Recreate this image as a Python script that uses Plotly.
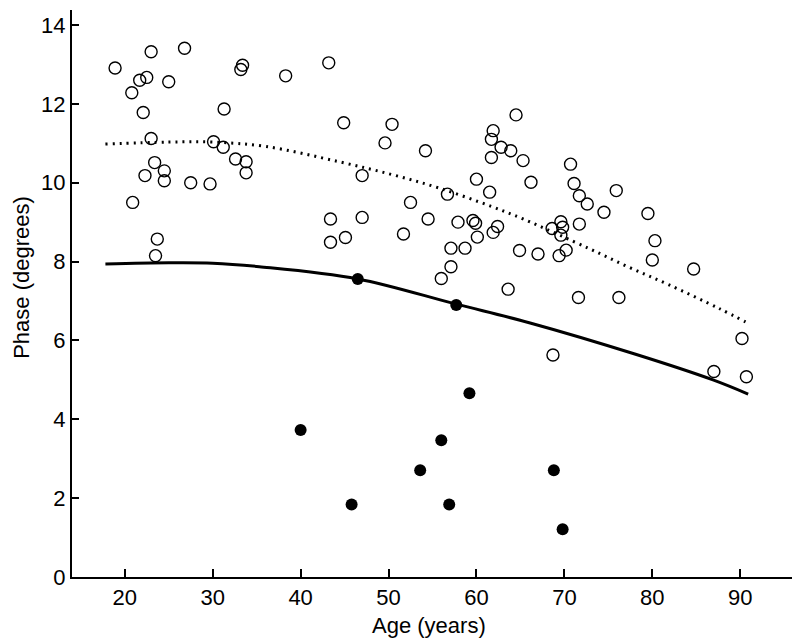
import plotly.graph_objects as go

# open circles (phase by age)
open_age = [18.9, 20.8, 21.7, 22.5, 23.0, 22.1, 23.0, 23.4, 22.3, 24.5, 24.5, 25.0,
            26.8, 27.5, 29.7, 30.1, 31.2, 31.3, 32.6, 33.8, 33.8, 33.4, 33.2, 20.9,
            23.7, 23.5, 38.3, 43.2, 44.9, 50.4, 49.6, 54.2, 47.0, 56.7, 60.0, 61.5,
            52.5, 64.5, 61.9, 61.7, 62.8, 63.9, 61.7, 65.3, 66.2, 70.7, 71.1, 71.7,
            72.6, 74.5, 75.9, 79.5, 43.4, 47.0, 43.4, 45.1, 51.7, 54.5, 57.9, 59.6,
            59.9, 60.1, 61.9, 62.4, 57.1, 58.7, 57.1, 56.0, 64.9, 63.6, 80.3, 80.0,
            84.7, 69.6, 68.6, 69.8, 69.6, 71.7, 67.0, 69.4, 70.2, 71.6, 76.2, 68.7,
            90.2, 87.0, 90.7]
open_phase = [12.91, 12.28, 12.60, 12.67, 13.32, 11.78, 11.12, 10.51, 10.18, 10.30, 10.05, 12.56,
              13.41, 10.00, 9.97, 11.04, 10.90, 11.87, 10.60, 10.53, 10.25, 12.98, 12.87, 9.50,
              8.57, 8.15, 12.71, 13.04, 11.52, 11.48, 11.01, 10.81, 10.18, 9.71, 10.09, 9.76,
              9.50, 11.72, 11.32, 11.10, 10.90, 10.81, 10.64, 10.56, 10.01, 10.47, 9.98, 9.67,
              9.46, 9.25, 9.80, 9.22, 9.08, 9.12, 8.49, 8.61, 8.70, 9.08, 9.00, 9.04,
              8.97, 8.62, 8.74, 8.89, 8.34, 8.34, 7.87, 7.57, 8.28, 7.30, 8.53, 8.04,
              7.81, 9.01, 8.84, 8.87, 8.67, 8.95, 8.19, 8.15, 8.29, 7.09, 7.09, 5.63,
              6.05, 5.21, 5.08]

# filled circles
filled_age = [46.5, 57.7, 59.2, 40.0, 45.8, 56.0, 53.6, 56.9, 68.8, 69.8]
filled_phase = [7.56, 6.90, 4.66, 3.73, 1.84, 3.47, 2.71, 1.84, 2.71, 1.21]

# fitted curves, points
dotted_age = [17.8, 25.0, 30.0, 36.0, 44.4, 50.5, 55.8, 61.8, 65.3, 72.8, 77.4, 81.9, 87.6, 90.6]
dotted_phase = [10.98, 11.03, 11.03, 10.92, 10.53, 10.20, 9.86, 9.39, 9.08, 8.33, 7.85, 7.41, 6.81, 6.47]

solid_age = [17.8, 25.0, 30.0, 35.3, 46.5, 57.7, 66.0, 78.1, 86.9, 90.9]
solid_phase = [7.94, 7.97, 7.96, 7.87, 7.56, 6.92, 6.45, 5.65, 5.00, 4.64]

fig = go.Figure()

fig.add_trace(go.Scatter(
    x=dotted_age, y=dotted_phase, mode="lines", line_shape="spline",
    line=dict(color="black", width=3, dash="2px,5px"),
))
fig.add_trace(go.Scatter(
    x=solid_age, y=solid_phase, mode="lines", line_shape="spline",
    line=dict(color="black", width=3),
))
fig.add_trace(go.Scatter(
    x=open_age, y=open_phase, mode="markers",
    marker=dict(symbol="circle-open", size=12, color="black", line=dict(width=1.4)),
))
fig.add_trace(go.Scatter(
    x=filled_age, y=filled_phase, mode="markers",
    marker=dict(symbol="circle", size=12, color="black"),
))

font = dict(family="Liberation Sans, Arial, sans-serif", size=22, color="black")

# page body has an 8px margin, so the figure is sized to fit inside the window
fig.update_layout(
    width=792, height=636,
    margin=dict(l=64, r=7, t=2, b=67),
    plot_bgcolor="white", paper_bgcolor="white",
    showlegend=False,
    font=font,
)
fig.update_xaxes(
    range=[14, 96], tickvals=[20, 30, 40, 50, 60, 70, 80, 90],
    ticks="inside", ticklen=8, tickwidth=2, tickcolor="black",
    showline=True, linewidth=2, linecolor="black", showgrid=False, zeroline=False,
    automargin=False, tickfont=dict(size=22),
)
fig.update_yaxes(
    range=[0, 14.38], tickvals=[0, 2, 4, 6, 8, 10, 12, 14],
    ticks="inside", ticklen=7, tickwidth=2, tickcolor="black",
    showline=True, linewidth=2, linecolor="black", showgrid=False, zeroline=False,
    automargin=False, tickfont=dict(size=22),
)

# axis titles
fig.add_annotation(text="Age (years)", xref="paper", yref="paper", x=0.495, y=-0.085,
                   xanchor="center", yanchor="middle", showarrow=False)
fig.add_annotation(text="Phase (degrees)", xref="paper", yref="paper", x=-0.071, y=0.529,
                   xanchor="center", yanchor="middle", textangle=-90, showarrow=False)

fig.write_html("out.html")
